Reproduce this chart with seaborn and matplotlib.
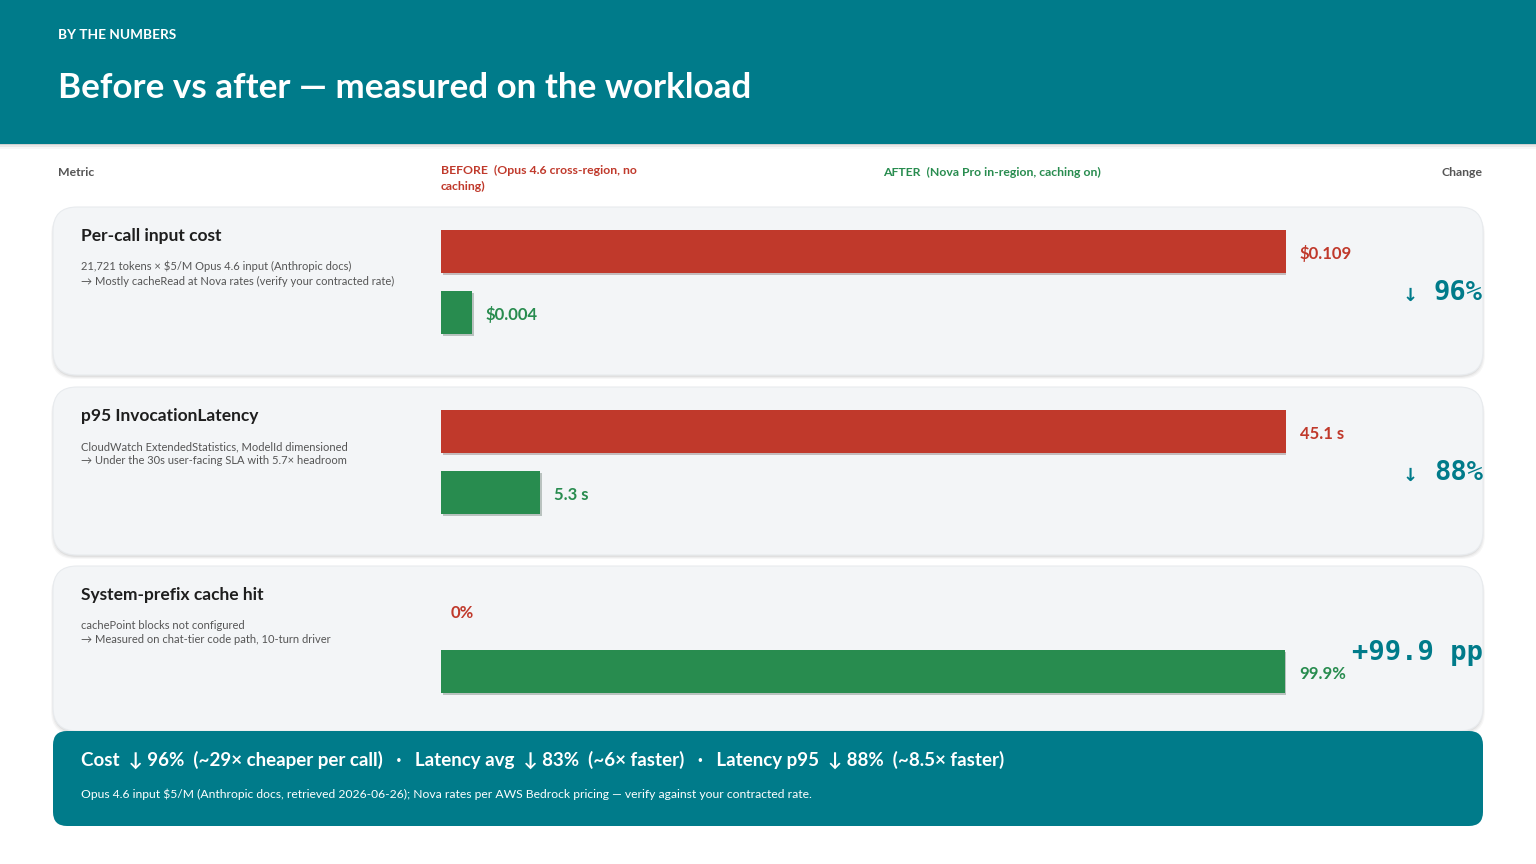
import matplotlib.pyplot as plt
import matplotlib.patheffects as pe
from matplotlib.patches import FancyBboxPatch, Rectangle
import seaborn as sns

# Data
metrics = ["Per-call input cost", "p95 InvocationLatency", "System-prefix cache hit"]
notes = [
    "21,721 tokens × \\$5/M Opus 4.6 input (Anthropic docs)\n→ Mostly cacheRead at Nova rates (verify your contracted rate)",
    "CloudWatch ExtendedStatistics, ModelId dimensioned\n→ Under the 30s user-facing SLA with 5.7× headroom",
    "cachePoint blocks not configured\n→ Measured on chat-tier code path, 10-turn driver",
]
before = [0.109, 45.1, 0.0]
after = [0.004, 5.3, 99.9]
scale_max = [0.109, 45.1, 100.0]
before_labels = ["\\$0.109", "45.1 s", "0%"]
after_labels = ["\\$0.004", "5.3 s", "99.9%"]
changes = ["96%", "88%", "+99.9 pp"]
arrows = ["↓", "↓", ""]

TEAL = "#007B8A"
RED = "#C0392B"
GREEN = "#288C4F"
CARD = "#F3F5F7"
W, H = 1536, 864

sns.set_theme(style="white")
plt.rcParams['font.family'] = ['Lato', 'DejaVu Sans']

fig = plt.figure(figsize=(15.36, 8.64), dpi=100)
fig.patch.set_facecolor("white")
bg = fig.add_axes([0, 0, 1, 1])
bg.set_xlim(0, W)
bg.set_ylim(H, 0)
bg.axis("off")


def fbox(x0, y0, x1, y1):
    return [x0 / W, 1 - y1 / H, (x1 - x0) / W, (y1 - y0) / H]


# header band
for i, a in enumerate([0.10, 0.06, 0.03]):
    bg.add_patch(Rectangle((0, 143), W, 2 + i * 2, color="black", alpha=a, lw=0))
bg.add_patch(Rectangle((0, 0), W, 144, color=TEAL, lw=0))
bg.text(58, 35, "BY THE NUMBERS", color="white", fontsize=9.8, fontweight="bold", va="center")
bg.text(58, 88, "Before vs after — measured on the workload", color="white", fontsize=25.2,
        fontweight="bold", va="center")

# column headers
bg.text(58, 172, "Metric", color="#555555", fontsize=8.8, fontweight="bold", va="center")
bg.text(441, 165, "BEFORE  (Opus 4.6 cross-region, no\ncaching)", color=RED, fontsize=8.8,
        fontweight="bold", va="top", linespacing=1.5)
bg.text(883, 172, "AFTER  (Nova Pro in-region, caching on)", color=GREEN, fontsize=8.8,
        fontweight="bold", va="center")
bg.text(1483, 172, "Change", color="#555555", fontsize=8.8, fontweight="bold", va="center", ha="right")

card_tops = [207, 387, 566]
for i, top in enumerate(card_tops):
    hgt = 168 if i < 2 else 165
    for k, a in enumerate([0.05, 0.04, 0.03]):
        bg.add_patch(FancyBboxPatch((53 - k, top + 2 + k), 1430 + 2 * k, hgt, boxstyle="round,pad=0,rounding_size=24",
                                    fc="black", ec="none", alpha=a))
    bg.add_patch(FancyBboxPatch((53, top), 1430, hgt, boxstyle="round,pad=0,rounding_size=24",
                                fc=CARD, ec="#E8EBEE", lw=0.8))
    bg.text(81, top + 29, metrics[i], fontsize=12.5, fontweight="bold", color="#1E1E1E", va="center")
    bg.text(81, top + 54, notes[i], fontsize=8, color="#555555", va="top", linespacing=1.35)

    # bars
    ax = fig.add_axes(fbox(441, top + 14, 1286, top + 136))
    sns.barplot(x=[before[i], after[i]], y=["before", "after"], hue=["before", "after"],
                palette=[RED, GREEN], orient="h", width=0.71, legend=False, ax=ax, saturation=1)
    ax.set_xlim(0, scale_max[i])
    ax.set_ylim(1.5, -0.5)
    ax.axis("off")
    ax.patch.set_alpha(0)
    for p in ax.patches:
        p.set_linewidth(0)
        if p.get_width() > 0:
            p.set_path_effects([pe.SimplePatchShadow(offset=(1.5, -1.5), alpha=0.25), pe.Normal()])
        else:
            p.set_visible(False)
    for j, (v, lab, col) in enumerate([(before[i], before_labels[i], RED), (after[i], after_labels[i], GREEN)]):
        ax.annotate(lab, (v, j), xytext=(10 if v > 0 else 7, -1.5), textcoords="offset points", va="center",
                    color=col, fontsize=12, fontweight="bold", annotation_clip=False)

    # change column
    cy = top + 86
    if arrows[i]:
        bg.text(1483, cy, changes[i], color=TEAL, fontsize=19.5, fontweight="bold", ha="right", va="center",
                family="DejaVu Sans Mono")
        bg.text(1418, cy + 3, arrows[i], color=TEAL, fontsize=13, fontweight="bold", ha="right", va="center",
                family="DejaVu Sans")
    else:
        bg.text(1483, top + 87, changes[i], color=TEAL, fontsize=19.5, fontweight="bold", ha="right",
                va="center", family="DejaVu Sans Mono")

# bottom banner
bg.add_patch(FancyBboxPatch((53, 731), 1430, 95, boxstyle="round,pad=0,rounding_size=14", fc=TEAL, ec="none"))
bg.text(81, 760, "Cost  ↓ 96%  (~29× cheaper per call)   ·   Latency avg  ↓ 83%  (~6× faster)   ·   "
        "Latency p95  ↓ 88%  (~8.5× faster)", color="white", fontsize=13.5, fontweight="bold", va="center")
bg.text(81, 794, "Opus 4.6 input \\$5/M (Anthropic docs, retrieved 2026-06-26); Nova rates per AWS Bedrock pricing"
        " — verify against your contracted rate.", color="white", fontsize=8.7, va="center")

fig.savefig("out.png", dpi=100)
